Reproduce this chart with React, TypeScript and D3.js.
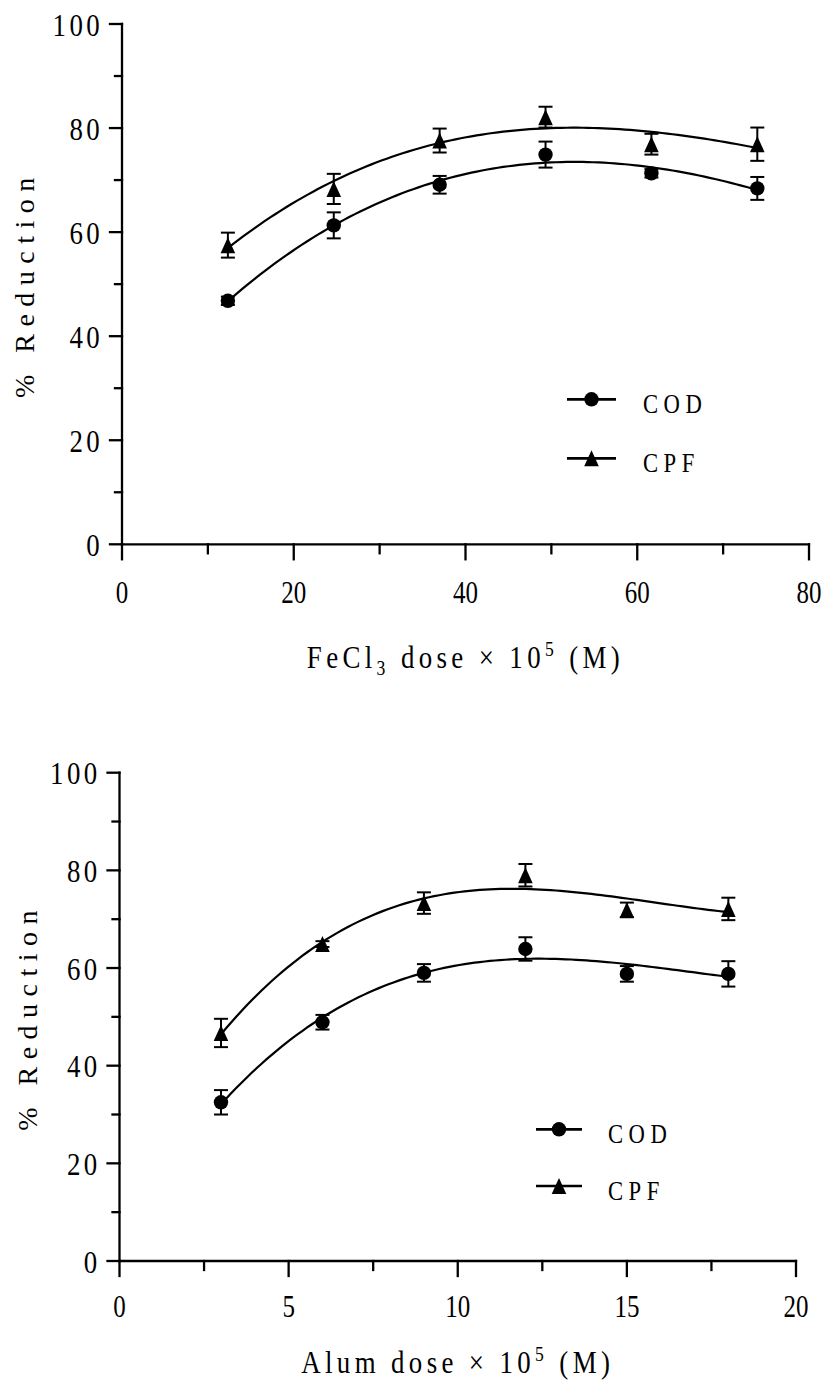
import React from 'react';
import * as d3 from 'd3';

const FONT = "'Liberation Serif', 'Times New Roman', Times, serif";

// FeCl3 coagulation: dose (×10^5 M) and mean % reduction with error
const fecl3Dose = [12.33, 24.66, 36.99, 49.32, 61.65, 73.98];
const fecl3Cod = [46.8, 61.3, 69.1, 74.9, 71.3, 68.4];
const fecl3CodErr = [0.8, 2.5, 1.7, 2.5, 0.8, 2.2];
const fecl3Cpf = [57.5, 68.3, 77.6, 82.1, 76.9, 76.9];
const fecl3CpfErr = [2.4, 2.9, 2.3, 2.0, 2.0, 3.2];

// Alum coagulation
const alumDose = [3, 6, 9, 12, 15, 18];
const alumCod = [32.5, 48.9, 59.0, 63.9, 58.8, 58.8];
const alumCodErr = [2.5, 1.5, 1.8, 2.4, 1.6, 2.6];
const alumCpf = [46.7, 64.9, 73.3, 79.0, 71.9, 72.1];
const alumCpfErr = [2.9, 0.6, 2.2, 2.3, 1.5, 2.3];

const fecl3XTicks = [0, 20, 40, 60, 80];
const fecl3XMinor = [10, 30, 50, 70];
const alumXTicks = [0, 5, 10, 15, 20];
const alumXMinor = [2.5, 7.5, 12.5, 17.5];
const yTicks = [0, 20, 40, 60, 80, 100];
const yMinor = [10, 30, 50, 70, 90];
const seriesNames = ['COD', 'CPF'];

type Shape = 'circle' | 'triangle';
interface Series { name: string; values: number[]; errs: number[]; shape: Shape }

// Least-squares polynomial regression (x normalised for stability)
function polyFit(xs: number[], ys: number[], degree: number) {
  const n = degree + 1;
  const mx = d3.mean(xs) as number;
  const sx = ((d3.max(xs) as number) - (d3.min(xs) as number)) / 2;
  const t = xs.map((x) => (x - mx) / sx);
  const A = Array.from({ length: n }, (_, i) =>
    Array.from({ length: n }, (_, j) => d3.sum(t, (v) => Math.pow(v, i + j)))
  );
  const b = Array.from({ length: n }, (_, i) => d3.sum(t, (v, k) => Math.pow(v, i) * ys[k]));
  for (let c = 0; c < n; c++) {
    let p = c;
    for (let r = c + 1; r < n; r++) if (Math.abs(A[r][c]) > Math.abs(A[p][c])) p = r;
    [A[c], A[p]] = [A[p], A[c]];
    [b[c], b[p]] = [b[p], b[c]];
    for (let r = c + 1; r < n; r++) {
      const f = A[r][c] / A[c][c];
      for (let k = c; k < n; k++) A[r][k] -= f * A[c][k];
      b[r] -= f * b[c];
    }
  }
  const coef = new Array(n).fill(0);
  for (let r = n - 1; r >= 0; r--) {
    let s = b[r];
    for (let k = r + 1; k < n; k++) s -= A[r][k] * coef[k];
    coef[r] = s / A[r][r];
  }
  return (x: number) => {
    const u = (x - mx) / sx;
    return coef.reduce((acc, c, i) => acc + c * Math.pow(u, i), 0);
  };
}

// Narrow, tall serif lettering
function CText({ x, y, size, ls = 0, sx = 0.84, anchor = 'start', children }: {
  x: number; y: number; size: number; ls?: number; sx?: number;
  anchor?: 'start' | 'middle' | 'end'; children: React.ReactNode;
}) {
  return (
    <text
      transform={`translate(${x},${y}) scale(${sx},1)`}
      textAnchor={anchor} fontSize={size} letterSpacing={ls} fontFamily={FONT} fill="#000"
    >
      {children}
    </text>
  );
}

function Marker({ shape, cx, cy }: { shape: Shape; cx: number; cy: number }) {
  if (shape === 'circle') return <circle cx={cx} cy={cy} r={7.2} fill="#000" />;
  const w = 7.3, h = 8;
  return <path d={`M${cx},${cy - h}L${cx + w},${cy + h}L${cx - w},${cy + h}Z`} fill="#000" />;
}

interface PanelProps {
  left: number; top: number; width: number; height: number;
  xMax: number; xTicks: number[]; xMinor: number[];
  dose: number[]; series: Series[];
  xTitle: React.ReactNode; xTitleY: number; xTickLabelDy: number;
  yTitleX: number;
  legend: { x1: number; x2: number; textX: number; y0: number; gap: number };
}

function Panel(p: PanelProps) {
  const x = d3.scaleLinear().domain([0, p.xMax]).range([p.left, p.left + p.width]);
  const y = d3.scaleLinear().domain([0, 100]).range([p.top + p.height, p.top]);
  const x0 = x(0), y0 = y(0);
  const sw = 2.3;
  const line = d3.line<[number, number]>().x((d) => x(d[0])).y((d) => y(d[1]));

  return (
    <g>
      {/* fitted curves */}
      {p.series.map((s) => {
        const f = polyFit(p.dose, s.values, 3);
        const lo = p.dose[0], hi = p.dose[p.dose.length - 1];
        const pts: [number, number][] = d3.range(0, 101).map((i) => {
          const xv = lo + ((hi - lo) * i) / 100;
          return [xv, f(xv)];
        });
        return <path key={s.name + 'fit'} d={line(pts) || ''} fill="none" stroke="#000" strokeWidth={2.2} />;
      })}
      {/* error bars and markers */}
      {p.series.map((s) => (
        <g key={s.name}>
          {s.values.map((v, i) => {
            const cx = x(p.dose[i]);
            const yt = y(v + s.errs[i]), yb = y(v - s.errs[i]);
            return (
              <g key={i} stroke="#000" strokeWidth={2}>
                <line x1={cx} x2={cx} y1={yt} y2={yb} />
                <line x1={cx - 7} x2={cx + 7} y1={yt} y2={yt} />
                <line x1={cx - 7} x2={cx + 7} y1={yb} y2={yb} />
              </g>
            );
          })}
          {s.values.map((v, i) => (
            <Marker key={i} shape={s.shape} cx={x(p.dose[i])} cy={y(v)} />
          ))}
        </g>
      ))}
      {/* y axis */}
      <g stroke="#000" strokeWidth={sw} strokeLinecap="square">
        <line x1={x0} x2={x0} y1={y(0)} y2={y(100)} />
        {yTicks.map((t) => <line key={t} x1={x0 - 12} x2={x0} y1={y(t)} y2={y(t)} />)}
        {yMinor.map((t) => <line key={t} x1={x0 - 7} x2={x0} y1={y(t)} y2={y(t)} />)}
      </g>
      {yTicks.map((t) => (
        <CText key={t} x={x0 - 19} y={y(t) + 11.5} size={32} ls={4} anchor="end">
          {t}
        </CText>
      ))}
      {/* x axis */}
      <g stroke="#000" strokeWidth={sw} strokeLinecap="square">
        <line x1={x0} x2={x(p.xMax)} y1={y0} y2={y0} />
        {p.xTicks.map((t) => <line key={t} x1={x(t)} x2={x(t)} y1={y0} y2={y0 + 15} />)}
        {p.xMinor.map((t) => <line key={t} x1={x(t)} x2={x(t)} y1={y0} y2={y0 + 9} />)}
      </g>
      {p.xTicks.map((t) => (
        <CText key={t} x={x(t)} y={y0 + p.xTickLabelDy} size={32} ls={0} sx={0.78} anchor="middle">
          {t}
        </CText>
      ))}
      <CText x={(x0 + x(p.xMax)) / 2} y={p.xTitleY} size={32} ls={5.2} anchor="middle">
        {p.xTitle}
      </CText>
      <text
        transform={`translate(${p.yTitleX},${p.top + p.height / 2}) rotate(-90)`}
        textAnchor="middle" fontSize={28} letterSpacing={7.5} fontFamily={FONT}
      >
        % Reduction
      </text>
      {/* legend */}
      {p.series.map((s, i) => {
        const ly = p.legend.y0 + i * p.legend.gap;
        return (
          <g key={s.name + 'leg'}>
            <line x1={p.legend.x1} x2={p.legend.x2} y1={ly} y2={ly} stroke="#000" strokeWidth={2.7} />
            <Marker shape={s.shape} cx={(p.legend.x1 + p.legend.x2) / 2} cy={ly} />
            <CText x={p.legend.textX} y={ly + 13.5} size={27} ls={6.5}>
              {s.name}
            </CText>
          </g>
        );
      })}
    </g>
  );
}

export default function App() {
  const fecl3Series: Series[] = [
    { name: seriesNames[0], values: fecl3Cod, errs: fecl3CodErr, shape: 'circle' },
    { name: seriesNames[1], values: fecl3Cpf, errs: fecl3CpfErr, shape: 'triangle' },
  ];
  const alumSeries: Series[] = [
    { name: seriesNames[0], values: alumCod, errs: alumCodErr, shape: 'circle' },
    { name: seriesNames[1], values: alumCpf, errs: alumCpfErr, shape: 'triangle' },
  ];
  return (
    <svg width={822} height={1387} style={{ position: 'absolute', left: 0, top: 0, background: '#fff' }}>
      <rect width={822} height={1387} fill="#fff" />
      <Panel
        left={122} top={24} width={687} height={520.3}
        xMax={80} xTicks={fecl3XTicks} xMinor={fecl3XMinor}
        dose={fecl3Dose} series={fecl3Series}
        xTitle={
          <>
            FeCl<tspan fontSize={21} dy={7}>3</tspan>
            <tspan dy={-7}>{' dose × 10'}</tspan>
            <tspan fontSize={21} dy={-12}>5</tspan>
            <tspan dy={12}>{' (M)'}</tspan>
          </>
        }
        xTitleY={668} xTickLabelDy={59} yTitleX={34}
        legend={{ x1: 567, x2: 616, textX: 643, y0: 399.3, gap: 59 }}
      />
      <Panel
        left={119.5} top={772.7} width={676.5} height={488.3}
        xMax={20} xTicks={alumXTicks} xMinor={alumXMinor}
        dose={alumDose} series={alumSeries}
        xTitle={
          <>
            Alum dose × 10
            <tspan fontSize={21} dy={-12}>5</tspan>
            <tspan dy={12}>{' (M)'}</tspan>
          </>
        }
        xTitleY={1373} xTickLabelDy={56} yTitleX={37}
        legend={{ x1: 536, x2: 582, textX: 608, y0: 1129.3, gap: 56.7 }}
      />
    </svg>
  );
}
